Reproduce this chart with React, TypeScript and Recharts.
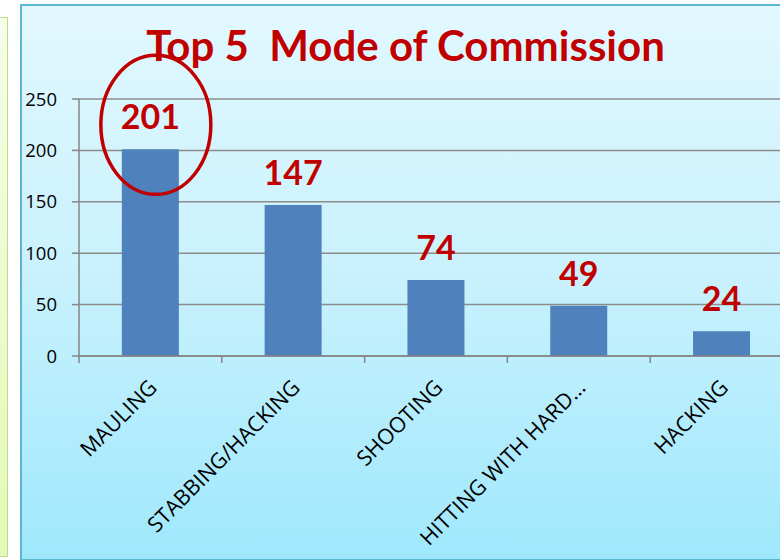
import { BarChart, Bar, XAxis, YAxis, CartesianGrid, LabelList } from 'recharts';

const categories = ['MAULING', 'STABBING/HACKING', 'SHOOTING', 'HITTING WITH HARD…', 'HACKING'];
const counts = [201, 147, 74, 49, 24];
const yTicks = [0, 50, 100, 150, 200, 250];

const data = categories.map((name, i) => ({ name, value: counts[i] }));

const RED = '#C00000';
const PLOT_W = 714;

function CategoryTick(props: any) {
  const { x, y, payload } = props;
  const band = PLOT_W / categories.length;
  const left = x - band / 2;
  const tx = x + 8;
  const ty = y + 25;
  return (
    <g>
      <line x1={left} y1={y - 8} x2={left} y2={y - 1} stroke="#868686" strokeWidth={1.5} />
      <text
        x={tx}
        y={ty}
        textAnchor="end"
        transform={`rotate(-45, ${tx}, ${ty})`}
        fill="#000"
        fontSize={21.5}
        fontFamily="'Open Sans', sans-serif"
      >
        {payload.value}
      </text>
    </g>
  );
}

function Highlight(props: any) {
  const { x, y, width, value } = props;
  if (value !== Math.max(...counts)) return null;
  return (
    <ellipse cx={x + width / 2 + 5.5} cy={y - 24.5} rx={55} ry={69.5} fill="none" stroke={RED} strokeWidth={3.5} />
  );
}

export default function App() {
  return (
    <div style={{ position: 'absolute', left: 0, top: 0, width: 780, height: 560, overflow: 'hidden', background: '#fff' }}>
      <div
        style={{
          position: 'absolute', left: -4, top: 17, width: 10, height: 538,
          background: 'linear-gradient(#f7fde8, #e3f9b4)', border: '1.5px solid #b9dc8e',
        }}
      />
      <div
        style={{
          position: 'absolute', left: 20, top: 4, width: 800, height: 553,
          background: 'linear-gradient(#e2f8fe, #c8f1fd 50%, #9fe8fc)', border: '2px solid #5bb6cf',
        }}
      />
      <div
        style={{
          position: 'absolute', left: 0, top: 20, width: 811, textAlign: 'center',
          color: RED, fontFamily: 'Lato, sans-serif', fontWeight: 700, fontSize: 42, whiteSpace: 'pre',
        }}
      >
        Top 5  Mode of Commission
      </div>
      <div style={{ position: 'absolute', left: 0, top: 0 }}>
        <BarChart
          width={820}
          height={560}
          data={data}
          margin={{ top: 99, right: 27, left: 19, bottom: 0 }}
          barCategoryGap="30%"
        >
          <CartesianGrid horizontal vertical={false} stroke="#8c8c8c" strokeWidth={1.5} />
          <XAxis
            dataKey="name"
            interval={0}
            height={204}
            axisLine={{ stroke: '#868686', strokeWidth: 1.5 }}
            tickLine={false}
            tick={<CategoryTick />}
          />
          <YAxis
            domain={[0, 250]}
            ticks={yTicks}
            width={60}
            axisLine={{ stroke: '#868686', strokeWidth: 1.5 }}
            tickLine={{ stroke: '#868686', strokeWidth: 1.5 }}
            tickSize={7}
            tick={{ fill: '#000', fontSize: 18.5, fontFamily: "'Open Sans', sans-serif", dx: -13 }}
          />
          <Bar dataKey="value" fill="#4F81BD" isAnimationActive={false}>
            <LabelList
              dataKey="value"
              position="top"
              offset={20}
              fill={RED}
              fontSize={34}
              fontWeight={700}
              fontFamily="Lato, sans-serif"
            />
            <LabelList dataKey="value" content={<Highlight />} />
          </Bar>
        </BarChart>
      </div>
    </div>
  );
}
